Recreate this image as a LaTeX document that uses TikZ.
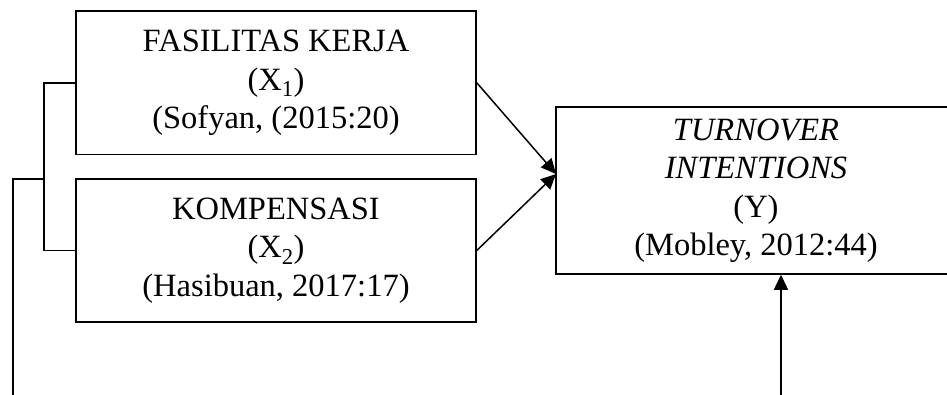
\documentclass[tikz,border=0pt]{standalone}
\usepackage{fontspec}
\setmainfont{Liberation Serif}
\usetikzlibrary{arrows.meta}
\begin{document}
\begin{tikzpicture}[x=1pt,y=-1pt,
  box/.style={draw,line width=1.5pt,align=center,inner sep=0pt,
    font=\fontsize{32.5}{38.5}\selectfont},
  conn/.style={line width=1.5pt},
  arr/.style={conn,-{Triangle[length=15pt,width=14pt]}}]
\useasboundingbox (0,0) rectangle (947,394);
\node[box,minimum width=400pt,minimum height=143.5pt] (b1) at (276,82.75)
  {FASILITAS KERJA\\(X\textsubscript{1})\\(Sofyan, (2015:20)};
\node[box,minimum width=400pt,minimum height=143pt] (b2) at (276,250.5)
  {KOMPENSASI\\(X\textsubscript{2})\\(Hasibuan, 2017:17)};
\node[box,minimum width=400pt,minimum height=167pt] (y) at (756,190.5)
  {\textit{TURNOVER}\\\textit{INTENTIONS}\\(Y)\\(Mobley, 2012:44)};
\coordinate (t) at (556,174);
\coordinate (j) at (44,179);
\coordinate (e1) at (13,395);
\coordinate (e2) at (781,395);
\draw[conn] (b1.west) -- (b1.west -| j) |- (b2.west);
\draw[conn] (j) -| (e1);
\draw[arr] (b1.east) -- (t);
\draw[arr] (b2.east) -- (t);
\draw[arr] (e2) -- (e2 |- y.south);
\end{tikzpicture}
\end{document}
